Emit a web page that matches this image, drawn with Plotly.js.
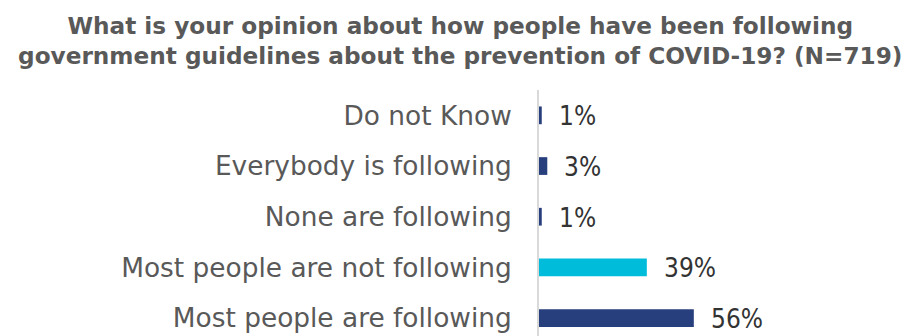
<!DOCTYPE html>
<html>
<head>
<meta charset="utf-8">
<script src="https://cdn.plot.ly/plotly-3.0.1.min.js"></script>
<style>html,body{margin:0;padding:0;background:#fff;}#chart{width:915px;height:336px;}</style>
</head>
<body>
<div id="chart"></div>
<script>
// Data (bottom to top)
var categories = ["Most people are following", "Most people are not following", "None are following", "Everybody is following", "Do not Know"];
var percentages = [56, 39, 1, 3, 1];
var valueLabels = ["56%", "39%", "1%", "3%", "1%"];
var titleText = "What is your opinion about how people have been following<br>government guidelines about the prevention of COVID-19? (N=719)";

var NAVY = "#283F7E", CYAN = "#00BCDB";
var barColors = categories.map(function (c) { return c === "Most people are not following" ? CYAN : NAVY; });

var trace = {
  type: "bar",
  orientation: "h",
  y: categories,
  x: percentages,
  width: 0.35,
  marker: { color: barColors, line: { width: 0 } },
  hoverinfo: "skip"
};

var annotations = categories.map(function (c, i) {
  return {
    x: percentages[i], y: c, xref: "x", yref: "y",
    text: valueLabels[i], showarrow: false,
    xanchor: "left", yanchor: "middle", xshift: 15, yshift: -1,
    font: { family: "DejaVu Sans Condensed, DejaVu Sans, sans-serif", size: 26, color: "#333333" }
  };
});

var layout = {
  width: 915, height: 336,
  margin: { l: 539, r: 0, t: 90, b: 0, pad: 0 },
  paper_bgcolor: "#ffffff", plot_bgcolor: "#ffffff",
  showlegend: false,
  title: {
    text: titleText,
    x: 0.503, xanchor: "center", xref: "container",
    y: 0.9, yanchor: "top", yref: "container",
    font: { family: "DejaVu Sans, sans-serif", size: 23.2, color: "#595959", weight: "bold" }
  },
  xaxis: { range: [0, 136], visible: false, fixedrange: true },
  yaxis: {
    type: "category",
    categoryorder: "array", categoryarray: categories,
    range: [-0.353, 4.5],
    showline: true, linecolor: "#D9D9D9", linewidth: 2,
    showgrid: false, zeroline: false,
    ticks: "", ticklabelstandoff: 20,
    tickfont: { family: "DejaVu Sans, sans-serif", size: 26.4, color: "#595959" },
    fixedrange: true
  },
  annotations: annotations
};

Plotly.newPlot("chart", [trace], layout, { displayModeBar: false, staticPlot: true });
</script>
</body>
</html>
